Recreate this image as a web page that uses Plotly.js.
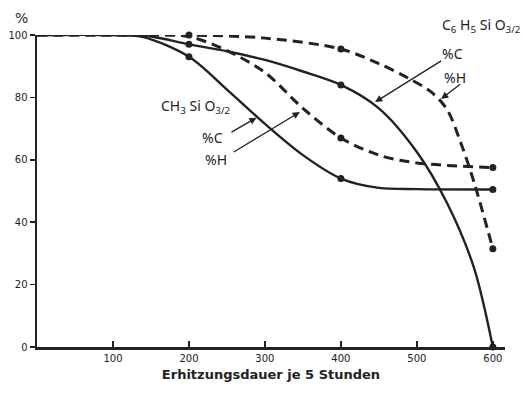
<!DOCTYPE html>
<html>
<head>
<meta charset="utf-8">
<script src="https://cdn.plot.ly/plotly-3.0.1.min.js"></script>
<style>html,body{margin:0;padding:0;background:#fff;}#chart{width:523px;height:394px;}</style>
</head>
<body>
<div id="chart"></div>
<script>
// CH3SiO3/2 %C (solid)
var ch3C_x = [0, 100, 140, 200, 250, 300, 350, 400, 450, 500, 600];
var ch3C_y = [100, 100, 99.3, 93, 82.5, 71.5, 61.5, 54, 51, 50.6, 50.5];
// CH3SiO3/2 %H (dashed)
var ch3H_x = [0, 100, 150, 200, 250, 300, 350, 400, 450, 500, 600];
var ch3H_y = [100, 100, 100, 99.5, 95, 88, 76.5, 67, 61.5, 59, 57.5];
// C6H5SiO3/2 %C (solid)
var phC_x = [0, 100, 150, 200, 250, 300, 350, 400, 450, 500, 540, 575, 600];
var phC_y = [100, 100, 99.5, 97, 94.8, 92, 88.3, 84, 76.5, 62.5, 46, 25.5, 0];
// C6H5SiO3/2 %H (dashed)
var phH_x = [0, 100, 200, 300, 400, 450, 490, 520, 540, 557, 575, 600];
var phH_y = [100, 100, 100, 99, 95.5, 90.8, 86, 81.5, 76, 66, 53, 31.5];
// measured points (dots)
var ch3C_px = [200, 400, 600], ch3C_py = [93, 54, 50.5];
var ch3H_px = [400, 600], ch3H_py = [67, 57.5];
var phC_px = [200, 400, 600], phC_py = [97, 84, 0];
var phH_px = [200, 400, 600], phH_py = [100, 95.5, 31.5];
var xTicks = [100, 200, 300, 400, 500, 600];
var yTicks = [0, 20, 40, 60, 80, 100];

var ink = '#222';
function line(x, y, dash, w) {
  return {x: x, y: y, type: 'scatter', mode: 'lines', cliponaxis: false,
    line: {color: ink, width: w, dash: dash, shape: 'spline', smoothing: 0.9}, hoverinfo: 'skip'};
}
function dots(x, y) {
  return {x: x, y: y, type: 'scatter', mode: 'markers', cliponaxis: false,
    marker: {color: ink, size: 7}, hoverinfo: 'skip'};
}
var data = [
  line(ch3C_x, ch3C_y, 'solid', 2.4),
  line(ch3H_x, ch3H_y, '10px,6px', 3),
  line(phC_x, phC_y, 'solid', 2.4),
  line(phH_x, phH_y, '10px,6px', 3),
  dots(ch3C_px, ch3C_py), dots(ch3H_px, ch3H_py), dots(phC_px, phC_py), dots(phH_px, phH_py)
];
var lf = {family: 'Noto Sans, DejaVu Sans, sans-serif', size: 14, color: ink};
function arrow(x, y, ax, ay) {
  return {x: x, y: y, ax: ax, ay: ay, xref: 'x', yref: 'y', axref: 'x', ayref: 'y',
    text: '', showarrow: true, arrowhead: 2, arrowsize: 1.1, arrowwidth: 1.3, arrowcolor: ink};
}
function lbl(x, y, t) {
  return {x: x, y: y, xref: 'x', yref: 'y', text: t, showarrow: false, xanchor: 'left', yanchor: 'middle', font: lf};
}
var layout = {
  width: 523, height: 394,
  margin: {l: 37, r: 18, t: 35, b: 47},
  paper_bgcolor: '#fff', plot_bgcolor: '#fff',
  showlegend: false,
  font: {family: 'Noto Sans, DejaVu Sans, sans-serif', color: ink},
  xaxis: {range: [0, 616], showgrid: false, zeroline: false, showline: true, linecolor: ink, linewidth: 2.5,
    tickvals: xTicks, ticks: 'inside', ticklen: 6, tickwidth: 1.5, tickcolor: ink,
    tickfont: {size: 10, color: ink, family: 'DejaVu Sans, sans-serif'},
    title: {text: '<b>Erhitzungsdauer je 5 Stunden</b>', font: {size: 13, color: ink, family: 'DejaVu Sans, sans-serif'}, standoff: 8}},
  yaxis: {range: [0, 100], showgrid: false, zeroline: false, showline: true, linecolor: ink, linewidth: 2.5,
    tickvals: yTicks, ticks: 'outside', ticklen: 5, tickwidth: 1.5, tickcolor: ink,
    tickfont: {size: 10, color: ink, family: 'DejaVu Sans, sans-serif'}},
  annotations: [
    {x: -0.033, y: 1.055, xref: 'paper', yref: 'paper', xanchor: 'center', yanchor: 'middle', text: '%', showarrow: false, font: {size: 14, color: ink, family: 'DejaVu Sans, sans-serif'}},
    lbl(160, 77, 'CH<sub>3</sub> Si O<sub>3/2</sub>'),
    lbl(215, 67.3, '%C'),
    lbl(218, 60, '%H'),
    arrow(289, 73.5, 254, 68.6),
    arrow(346, 75.3, 257, 62.2),
    {x: 0.862, y: 1.032, xref: 'paper', yref: 'paper', xanchor: 'left', yanchor: 'middle', text: 'C<sub>6</sub> H<sub>5</sub> Si O<sub>3/2</sub>', showarrow: false, font: lf},
    lbl(531, 94.2, '%C'),
    lbl(533, 86.5, '%H'),
    arrow(445, 78.5, 534, 92),
    arrow(532, 79.5, 559, 84.6)
  ]
};
Plotly.newPlot('chart', data, layout, {staticPlot: true, displayModeBar: false});
</script>
</body>
</html>
